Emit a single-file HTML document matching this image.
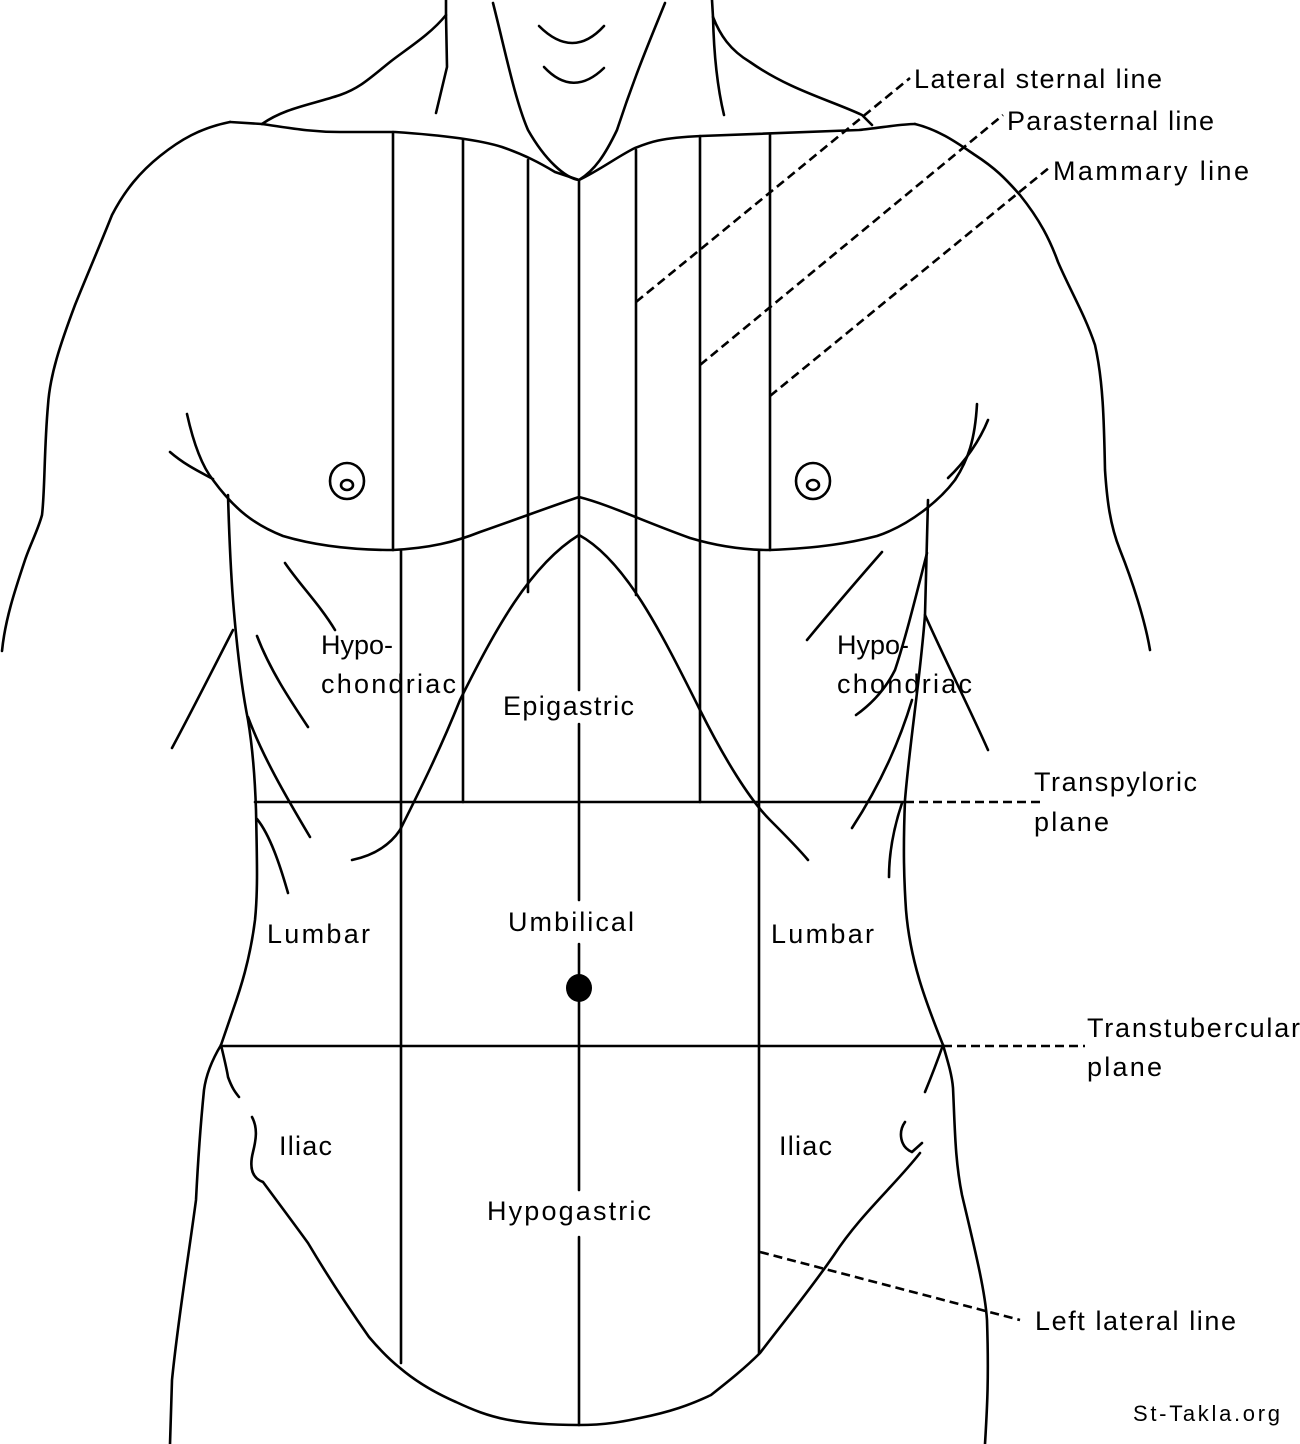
<!DOCTYPE html>
<html><head><meta charset="utf-8"><style>
html,body{margin:0;padding:0;background:#fff}
svg{display:block}
text{font-family:"Liberation Sans",sans-serif;font-size:27px;fill:#000}
</style></head><body>
<svg width="1300" height="1444" viewBox="0 0 1300 1444" xmlns="http://www.w3.org/2000/svg">
<g fill="none" stroke="#000" stroke-width="2.6" stroke-linecap="round" stroke-linejoin="round">
<path d="M446,0 L446,15 L447,67 L436,113"/>
<path d="M446,15 C430,35 405,50 390,62 C370,78 360,88 340,95 C310,105 285,108 262,124"/>
<path d="M493,3 C505,50 515,100 528,130 C545,160 565,178 579,180 C595,170 605,155 617,130 C635,75 650,40 665,3"/>
<path d="M539,26 Q573,60 604,26"/>
<path d="M544,67 Q573,98 604,68"/>
<path d="M712,0 L713,17 C714,60 718,90 724,115"/>
<path d="M713,17 C720,35 730,50 750,62 C790,90 830,100 862,115 L872,125"/>
<path d="M230,122 L262,124 C290,128 310,132 340,132 L395,132 C440,135 480,140 502,147 C525,155 540,163 555,172 L579,180 C600,170 620,155 635,148 C650,142 660,138 701,136 L859,130 C880,128 900,124 915,124"/>
<path d="M230,122 C200,128 180,140 160,156 C140,172 125,190 112,215 C98,250 85,280 75,305 C60,345 50,375 48,405 C44,450 45,490 42,515 C38,530 30,545 25,560 C15,590 5,620 2,651"/>
<path d="M915,124 C940,130 960,145 975,155 C995,168 1005,178 1020,195 C1040,220 1050,240 1058,262 C1070,290 1085,315 1095,345 C1103,380 1104,420 1105,470 C1107,500 1110,525 1120,550 C1132,580 1145,620 1150,650"/>
<path d="M187,414 C195,450 205,470 213,480 C235,510 255,525 283,536 C320,547 360,550 393,550 C430,548 455,542 480,532 C520,518 555,505 579,497 C610,505 640,520 690,538 C720,547 745,550 770,550 C820,548 850,543 877,536 C910,525 940,500 955,480 C968,460 975,440 977,404"/>
<path d="M170,452 C185,465 200,472 213,479"/>
<path d="M988,420 C980,440 965,462 948,478"/>
<ellipse cx="347" cy="481" rx="17" ry="18"/>
<ellipse cx="347" cy="485" rx="6" ry="5"/>
<ellipse cx="813" cy="481" rx="17" ry="18"/>
<ellipse cx="813" cy="485" rx="6" ry="5"/>
<path d="M228,495 C229,530 230,560 233,600 C237,650 242,690 248,720 C253,750 255,780 256,810 C257,860 258,890 255,920 C250,960 240,990 233,1010 L221,1045"/>
<path d="M233,630 C215,665 195,705 172,748"/>
<path d="M285,563 C300,585 320,605 335,630"/>
<path d="M257,636 C270,670 290,700 308,727"/>
<path d="M248,717 C262,755 285,795 310,837"/>
<path d="M257,819 C270,835 280,865 288,893"/>
<path d="M352,860 C375,855 390,845 400,830"/>
<path d="M928,500 C927,540 926,580 925,615 C920,680 910,740 905,800 C903,850 904,880 906,910 C910,960 925,1000 943,1045"/>
<path d="M925,615 C945,660 968,705 988,750"/>
<path d="M882,552 C862,575 840,600 807,640"/>
<path d="M927,553 C915,600 905,640 895,670 C885,690 870,705 856,715"/>
<path d="M912,700 C900,740 880,785 852,828"/>
<path d="M902,803 C893,830 889,855 889,877"/>
<path d="M400,830 C420,790 440,750 460,700 C495,630 530,565 579,535 C625,560 660,630 700,710 C725,760 750,800 770,820 C785,835 798,848 808,860"/>
<path d="M221,1045 C212,1060 206,1075 204,1090 C200,1130 198,1160 196,1200 C188,1260 178,1320 172,1380 L170,1444"/>
<path d="M221,1045 C225,1062 227,1070 228,1077 C232,1088 235,1092 239,1097"/>
<path d="M252,1117 C258,1128 256,1140 253,1152 C249,1168 252,1178 263,1182 C280,1205 295,1225 308,1243 C330,1280 350,1310 369,1337 C380,1350 390,1360 400,1368 C420,1385 440,1395 456,1402 C490,1418 515,1425 579,1425 C610,1425 630,1420 640,1418 C670,1412 690,1405 711,1395 C730,1380 745,1368 760,1353 C785,1320 810,1290 834,1255 C860,1215 895,1185 920,1153"/>
<path d="M905,1122 C898,1132 900,1147 912,1152 L922,1143"/>
<path d="M925,1092 C932,1075 937,1062 943,1045"/>
<path d="M943,1045 C948,1062 952,1075 953,1088 C955,1130 955,1160 962,1195 C975,1250 985,1290 987,1320 C989,1380 987,1410 985,1444"/>
<path d="M393,132 L393,550 M401,550 L401,1363"/>
<path d="M463,140 L463,802"/>
<path d="M528,160 L528,592"/>
<path d="M636,150 L636,595"/>
<path d="M700,136 L700,802"/>
<path d="M770,134 L770,550 M759,550 L759,1353"/>
<path d="M579,180 L579,690 M579,724 L579,900 M579,944 L579,1190 M579,1237 L579,1425"/>
<path d="M255,802 L905,802"/>
<path d="M221,1046 L943,1046"/>
</g>
<g fill="none" stroke="#000" stroke-width="2.6" stroke-dasharray="9,5">
<path d="M905,802 L1040,802"/>
<path d="M943,1046 L1085,1046"/>
<path d="M636,302 L910,78"/>
<path d="M700,365 L1003,115"/>
<path d="M770,396 L1050,167"/>
<path d="M760,1252 L1020,1320"/>
</g>
<ellipse cx="579" cy="988" rx="13" ry="14" fill="#000"/>
<text x="914" y="88" textLength="248">Lateral sternal line</text>
<text x="1007" y="130" textLength="207">Parasternal line</text>
<text x="1053" y="180" textLength="196">Mammary line</text>
<text x="321" y="654">Hypo-</text>
<text x="321" y="693" textLength="135">chondriac</text>
<text x="837" y="654">Hypo-</text>
<text x="837" y="693" textLength="135">chondriac</text>
<text x="503" y="715" textLength="131">Epigastric</text>
<text x="1034" y="791" textLength="163">Transpyloric</text>
<text x="1034" y="831" textLength="75">plane</text>
<text x="267" y="943" textLength="103">Lumbar</text>
<text x="508" y="931" textLength="126">Umbilical</text>
<text x="771" y="943" textLength="103">Lumbar</text>
<text x="1087" y="1037" textLength="213">Transtubercular</text>
<text x="1087" y="1076" textLength="75">plane</text>
<text x="279" y="1155" textLength="53">Iliac</text>
<text x="779" y="1155" textLength="53">Iliac</text>
<text x="487" y="1220" textLength="164">Hypogastric</text>
<text x="1035" y="1330" textLength="201">Left lateral line</text>
<text x="1133" y="1421" style="font-size:22px" textLength="147">St-Takla.org</text>
</svg>
</body></html>
